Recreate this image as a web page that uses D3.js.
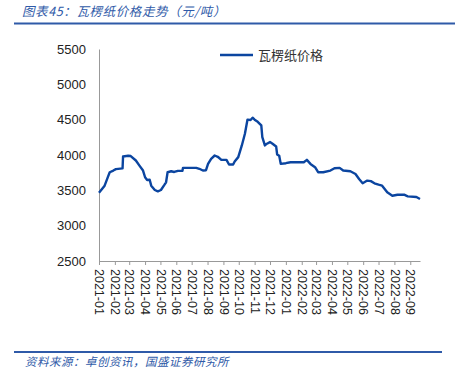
<!DOCTYPE html>
<html>
<head>
<meta charset="utf-8">
<script src="https://cdn.jsdelivr.net/npm/d3@7"></script>
<style>
  body { margin: 0; background: #fff; }
  svg { display: block; }
</style>
</head>
<body>
<script>
// 瓦楞纸价格 (元/吨)
const dates = ["2021-01-01","2021-01-12","2021-01-19","2021-01-22","2021-01-29","2021-02-03","2021-02-16","2021-02-17","2021-02-27","2021-03-04","2021-03-14","2021-03-21","2021-03-28","2021-04-01","2021-04-05","2021-04-10","2021-04-13","2021-04-20","2021-04-26","2021-05-02","2021-05-09","2021-05-12","2021-05-15","2021-05-22","2021-05-28","2021-06-04","2021-06-13","2021-06-14","2021-07-10","2021-07-16","2021-07-23","2021-07-29","2021-08-02","2021-08-08","2021-08-15","2021-08-21","2021-08-28","2021-09-07","2021-09-12","2021-09-20","2021-09-23","2021-09-30","2021-10-07","2021-10-13","2021-10-18","2021-10-24","2021-10-28","2021-11-01","2021-11-07","2021-11-14","2021-11-16","2021-11-21","2021-11-25","2021-12-01","2021-12-06","2021-12-13","2021-12-15","2021-12-19","2021-12-22","2022-01-01","2022-01-10","2022-02-05","2022-02-11","2022-02-18","2022-02-27","2022-03-05","2022-03-15","2022-03-29","2022-04-06","2022-04-16","2022-04-23","2022-05-07","2022-05-17","2022-05-24","2022-05-31","2022-06-09","2022-06-16","2022-06-23","2022-07-01","2022-07-08","2022-07-18","2022-07-28","2022-08-07","2022-08-20","2022-08-27","2022-09-13","2022-09-20"];
const prices = [3465,3566,3700,3756,3780,3800,3810,3979,3990,3985,3922,3850,3780,3685,3647,3650,3566,3505,3486,3505,3580,3614,3756,3770,3760,3775,3778,3818,3818,3805,3780,3785,3874,3946,3993,3975,3931,3931,3865,3865,3908,3970,4135,4301,4500,4495,4528,4500,4470,4419,4254,4135,4160,4183,4160,4121,4007,3990,3874,3884,3898,3898,3931,3874,3827,3756,3756,3780,3813,3818,3780,3770,3732,3661,3600,3638,3630,3600,3580,3566,3472,3424,3438,3438,3415,3405,3377];
const yTicks = [2500,3000,3500,4000,4500,5000,5500];
const seriesName = "瓦楞纸价格";

const W = 455, H = 374;
const margin = {top: 49, right: 35, bottom: 113, left: 99};
const blue = "#0b45a0";

const parse = d3.timeParse("%Y-%m-%d");
const data = dates.map((d, i) => ({date: parse(d), value: prices[i]}));

const svg = d3.select("body").append("svg")
    .attr("width", W)
    .attr("height", H);

// title + rules
svg.append("text")
    .attr("x", 22).attr("y", 16)
    .attr("fill", "#2f5aa8")
    .style("font-family", "'Noto Sans CJK SC', sans-serif")
    .style("font-size", "12.5px")
    .style("font-style", "italic")
    .style("letter-spacing", "0.6px")
    .text("图表45：瓦楞纸价格走势（元/吨）");
svg.append("line")
    .attr("x1", 14).attr("x2", W).attr("y1", 23.5).attr("y2", 23.5)
    .attr("stroke", "#2f5aa8").attr("stroke-width", 2);
svg.append("line")
    .attr("x1", 14).attr("x2", 442).attr("y1", 352).attr("y2", 352)
    .attr("stroke", "#2f5aa8").attr("stroke-width", 2);
svg.append("text")
    .attr("x", 25).attr("y", 366)
    .attr("fill", "#2f5aa8")
    .style("font-family", "'Noto Sans CJK SC', sans-serif")
    .style("font-size", "11.5px")
    .style("font-style", "italic")
    .style("letter-spacing", "0.5px")
    .text("资料来源：卓创资讯，国盛证券研究所");

const g = svg.append("g")
    .attr("transform", `translate(${margin.left},${margin.top})`);
const width = W - margin.left - margin.right,
      height = H - margin.top - margin.bottom;

const x = d3.scaleTime()
    .domain([parse("2021-01-01"), parse("2022-09-20")])
    .range([0, width]);
const y = d3.scaleLinear()
    .domain([2500, 5500])
    .range([height, 0]);

// y axis
const yAxis = g.append("g")
    .call(d3.axisLeft(y).tickValues(yTicks).tickSize(0).tickPadding(13).tickFormat(d3.format("d")));
yAxis.select(".domain").attr("stroke", "#999");
yAxis.selectAll("text")
    .style("font-family", "'Liberation Sans', Arial, sans-serif")
    .style("font-size", "13px")
    .attr("fill", "#222");

// x axis
const xAxis = g.append("g")
    .attr("transform", `translate(0,${height})`)
    .call(d3.axisBottom(x).ticks(d3.timeMonth.every(1)).tickSize(4).tickSizeOuter(0).tickFormat(d3.timeFormat("%Y-%m")));
xAxis.select(".domain").attr("stroke", "#999");
xAxis.selectAll(".tick line").attr("stroke", "#999");
xAxis.selectAll("text")
    .style("font-family", "'Liberation Sans', Arial, sans-serif")
    .style("font-size", "12.5px")
    .attr("fill", "#222")
    .attr("transform", "rotate(90)")
    .attr("x", 8).attr("y", 0).attr("dy", "0.35em")
    .style("text-anchor", "start");

// line
g.append("path")
    .datum(data)
    .attr("fill", "none")
    .attr("stroke", blue)
    .attr("stroke-width", 2.4)
    .attr("stroke-linejoin", "round")
    .attr("d", d3.line().x(d => x(d.date)).y(d => y(d.value)));

// legend
const lg = svg.append("g").attr("transform", "translate(220,55)");
lg.append("line").attr("x1", 0).attr("x2", 33).attr("stroke", blue).attr("stroke-width", 2.4);
lg.append("text")
    .attr("x", 38).attr("y", 0).attr("dy", "0.35em")
    .attr("fill", "#333")
    .style("font-family", "'Noto Sans CJK SC', sans-serif")
    .style("font-size", "13px")
    .text(seriesName);
</script>
</body>
</html>
